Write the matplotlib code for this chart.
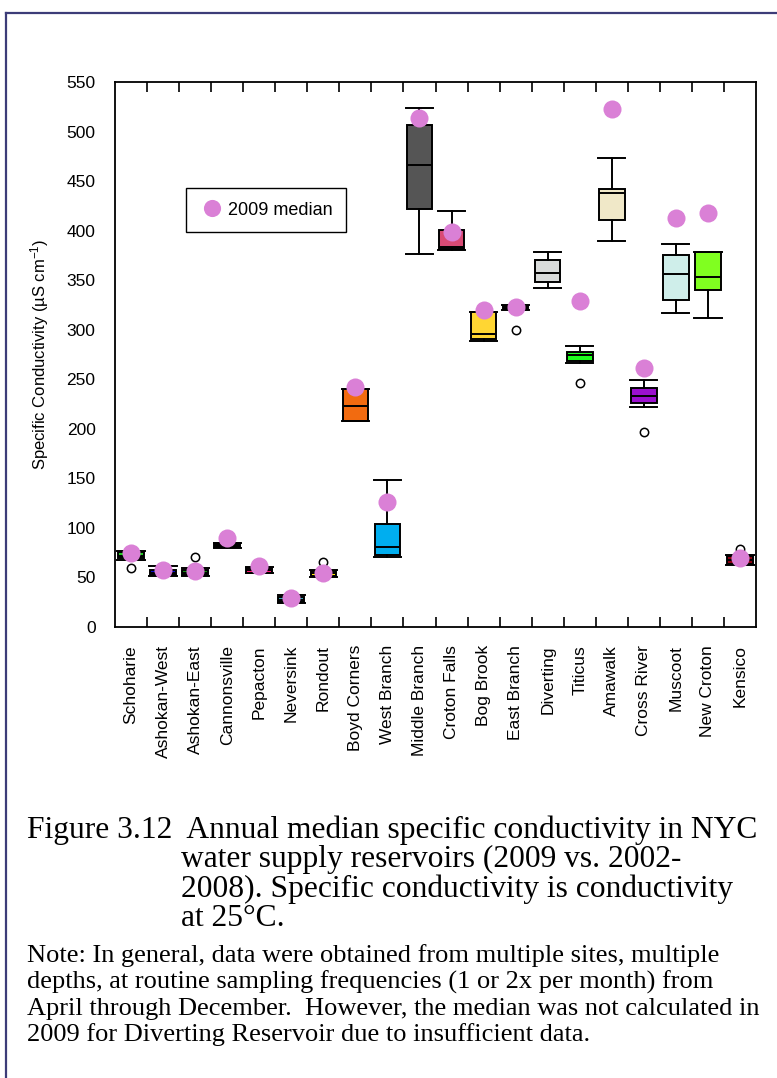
import numpy as np
import matplotlib
matplotlib.use("Agg")
import matplotlib.pyplot as plt
from matplotlib.lines import Line2D

plt.rcParams['font.family'] = ['Liberation Sans', 'DejaVu Sans']
plt.rcParams['mathtext.fontset'] = 'custom'
plt.rcParams['mathtext.rm'] = 'Liberation Sans'
plt.rcParams['mathtext.default'] = 'regular'

# Reservoirs, 2002-2008 box statistics (uS/cm) and 2009 medians
reservoirs = ["Schoharie", "Ashokan-West", "Ashokan-East", "Cannonsville", "Pepacton",
              "Neversink", "Rondout", "Boyd Corners", "West Branch", "Middle Branch",
              "Croton Falls", "Bog Brook", "East Branch", "Diverting", "Titicus",
              "Amawalk", "Cross River", "Muscoot", "New Croton", "Kensico"]
whisker_low = [68, 51, 51, 80, 54, 24, 50, 208, 71, 376, 380, 289, 320, 342, 266, 390, 222, 317, 312, 63]
quartile_1 = [70, 52, 52, 81, 55, 25, 51, 208, 73, 422, 381, 291, 321, 348, 268, 411, 226, 330, 340, 64]
median_0208 = [72, 55, 55, 83, 58, 27, 54, 223, 81, 466, 383, 296, 322, 357, 274, 438, 233, 356, 353, 68]
quartile_3 = [76, 58, 58, 85, 60, 30, 57, 240, 104, 507, 401, 318, 324, 370, 278, 442, 241, 375, 378, 72]
whisker_high = [77, 62, 60, 85, 61, 32, 58, 240, 148, 524, 420, 318, 325, 378, 284, 473, 249, 387, 378, 73]
outliers = [[60], [], [71], [], [], [], [66], [], [], [], [], [], [300], [], [246], [], [197], [], [], [79]]
median_2009 = [75, 58, 57, 90, 62, 29, 55, 242, 126, 514, 399, 320, 323, np.nan, 329, 523, 261, 413, 418, 70]

box_colors = ["#22CC22", "#0A0ACC", "#118811", "#000000", "#FF1A75",
              "#3FA0B0", "#FFEE00", "#F26B10", "#00AEEF", "#555555",
              "#D94A75", "#FFD633", "#8B5E1A", "#D9DBDA", "#1EFF1E",
              "#F0E8C8", "#9B10CF", "#CFEEEA", "#80FF20", "#8B0010"]

fig = plt.figure(figsize=(7.77, 10.78), dpi=100)
ax = fig.add_axes([115 / 777, 451 / 1078, 641 / 777, 545 / 1078])

stats = []
for i, name in enumerate(reservoirs):
    stats.append(dict(label=name, whislo=whisker_low[i], q1=quartile_1[i], med=median_0208[i],
                      q3=quartile_3[i], whishi=whisker_high[i], fliers=outliers[i]))

positions = np.arange(1, len(reservoirs) + 1)
bp = ax.bxp(stats, positions=positions, widths=0.8, capwidths=0.85, patch_artist=True,
            boxprops=dict(edgecolor='black', linewidth=1.4),
            medianprops=dict(color='black', linewidth=1.4),
            whiskerprops=dict(color='black', linewidth=1.4),
            capprops=dict(color='black', linewidth=1.4),
            flierprops=dict(marker='o', markerfacecolor='white', markeredgecolor='black',
                            markersize=6, markeredgewidth=1.1))
for patch, c in zip(bp['boxes'], box_colors):
    patch.set_facecolor(c)

ax.plot(positions, median_2009, linestyle='none', marker='o', markersize=13,
        color='#DA80D6', markeredgewidth=0, zorder=5, label='2009 median')

ax.set_xlim(0.5, len(reservoirs) + 0.5)
ax.set_ylim(0, 550)
ax.set_yticks(np.arange(0, 551, 50))
ax.set_xticks(positions)
ax.set_xticklabels(reservoirs, rotation=90, va='top', ha='center', fontsize=12.5)
ax.set_xticks(np.arange(1.5, len(reservoirs), 1.0), minor=True)
ax.tick_params(axis='x', which='major', length=0, pad=13)
ax.tick_params(axis='x', which='minor', direction='in', length=7, width=1.2,
               top=True, bottom=True)
ax.tick_params(axis='y', which='major', length=0, pad=14, labelsize=12.5)
for s in ax.spines.values():
    s.set_linewidth(1.3)

ax.set_ylabel("Specific Conductivity (µS cm$^{-1}$)", fontsize=12, labelpad=11)

leg = ax.legend(loc='upper left', bbox_to_anchor=(0.111, 0.8055), borderaxespad=0,
                fancybox=False, edgecolor='black', framealpha=1, fontsize=13,
                borderpad=0.75, handletextpad=0.15, handlelength=1.4, markerscale=0.95)
leg.get_frame().set_linewidth(1.0)

# Figure border (top and left edges)
fig.add_artist(Line2D([6 / 777, 1.0], [1 - 13 / 1078, 1 - 13 / 1078], color='#3C3C78',
                      linewidth=1.6, transform=fig.transFigure))
fig.add_artist(Line2D([6 / 777, 6 / 777], [0, 1 - 13 / 1078], color='#3C3C78',
                      linewidth=1.6, transform=fig.transFigure))

serif = ['Liberation Serif', 'DejaVu Serif']
caption = [(27, 838, "Figure 3.12  Annual median specific conductivity in NYC"),
           (181, 867, "water supply reservoirs (2009 vs. 2002-"),
           (181, 897, "2008). Specific conductivity is conductivity"),
           (181, 926, "at 25°C.")]
for x, y, t in caption:
    fig.text(x / 777, 1 - y / 1078, t, fontsize=22.7, family=serif, va='baseline', ha='left')

note = ["Note: In general, data were obtained from multiple sites, multiple",
        "depths, at routine sampling frequencies (1 or 2x per month) from",
        "April through December.  However, the median was not calculated in",
        "2009 for Diverting Reservoir due to insufficient data."]
for k, t in enumerate(note):
    y = 962 + k * 26.3
    fig.text(27 / 777, 1 - y / 1078, t, fontsize=19, family=serif, va='baseline', ha='left')

fig.savefig("out.png", dpi=100)
